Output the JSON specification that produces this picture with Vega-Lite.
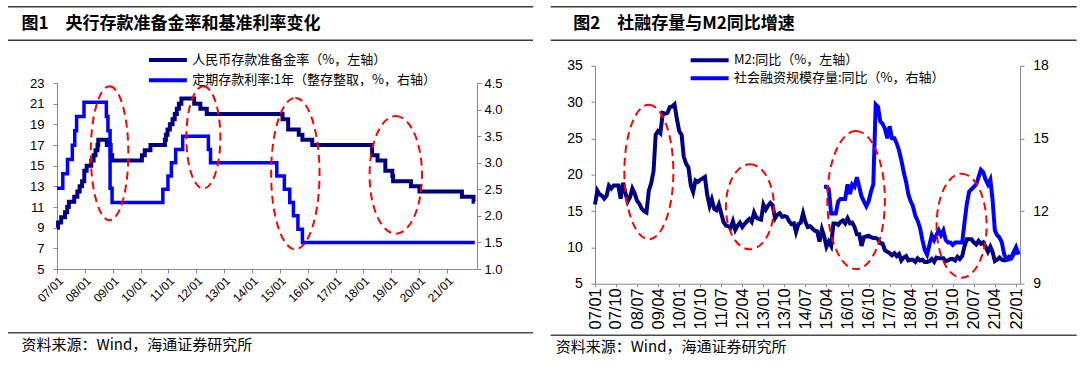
{
"$schema": "https://vega.github.io/schema/vega-lite/v6.json",
"background": "white",
"padding": {"left": 8, "top": 6, "right": 5, "bottom": 4},
"config": {
  "view": {"stroke": null},
  "font": "Liberation Sans",
  "axis": {"grid": false, "domainColor": "#888888", "tickColor": "#888888", "domainWidth": 1, "tickWidth": 1, "labelColor": "#000000", "labelFont": "Liberation Sans", "labelFontSize": 13, "tickSize": 4, "labelOverlap": false, "labelFlush": false, "title": null},
  "legend": {"title": null, "orient": "none", "labelFont": "Noto Sans CJK SC", "labelFontSize": 13, "labelColor": "#000000", "symbolType": "M-1,0L7,0", "symbolSize": 90.25, "symbolStrokeWidth": 4, "labelOffset": 31.5, "padding": 0, "labelLimit": 400}
},
"datasets": {
  "rrr": [
    {"d":"2007-01-01","v":9.0},{"d":"2007-01-15","v":9.5},{"d":"2007-02-25","v":10.0},{"d":"2007-04-16","v":10.5},{"d":"2007-05-15","v":11.0},{"d":"2007-06-05","v":11.5},{"d":"2007-08-15","v":12.0},{"d":"2007-09-25","v":12.5},{"d":"2007-10-25","v":13.0},{"d":"2007-11-26","v":13.5},{"d":"2007-12-25","v":14.5},{"d":"2008-01-25","v":15.0},{"d":"2008-03-25","v":15.5},{"d":"2008-04-25","v":16.0},{"d":"2008-05-20","v":16.5},{"d":"2008-06-15","v":17.0},{"d":"2008-06-25","v":17.5},{"d":"2008-10-15","v":17.0},{"d":"2008-12-05","v":16.0},{"d":"2008-12-25","v":15.5},{"d":"2010-01-18","v":16.0},{"d":"2010-02-25","v":16.5},{"d":"2010-05-10","v":17.0},{"d":"2010-11-16","v":17.5},{"d":"2010-11-29","v":18.0},{"d":"2010-12-20","v":18.5},{"d":"2011-01-20","v":19.0},{"d":"2011-02-24","v":19.5},{"d":"2011-03-25","v":20.0},{"d":"2011-04-21","v":20.5},{"d":"2011-05-18","v":21.0},{"d":"2011-06-20","v":21.5},{"d":"2011-12-05","v":21.0},{"d":"2012-02-24","v":20.5},{"d":"2012-05-18","v":20.0},{"d":"2015-02-05","v":19.5},{"d":"2015-04-20","v":18.5},{"d":"2015-09-06","v":18.0},{"d":"2015-10-24","v":17.5},{"d":"2016-03-01","v":17.0},{"d":"2018-04-25","v":16.0},{"d":"2018-07-05","v":15.5},{"d":"2018-10-15","v":14.5},{"d":"2019-01-15","v":14.0},{"d":"2019-01-25","v":13.5},{"d":"2019-09-16","v":13.0},{"d":"2020-01-06","v":12.5},{"d":"2021-07-15","v":12.0},{"d":"2021-12-15","v":11.5},{"d":"2021-12-31","v":11.5}
  ],
  "dep": [
    {"d":"2007-01-01","v":2.52},{"d":"2007-03-18","v":2.79},{"d":"2007-05-19","v":3.06},{"d":"2007-07-21","v":3.33},{"d":"2007-08-22","v":3.60},{"d":"2007-09-15","v":3.87},{"d":"2007-12-21","v":4.14},{"d":"2008-10-09","v":3.87},{"d":"2008-10-30","v":3.60},{"d":"2008-11-27","v":2.52},{"d":"2008-12-23","v":2.25},{"d":"2010-10-20","v":2.50},{"d":"2010-12-26","v":2.75},{"d":"2011-02-09","v":3.00},{"d":"2011-04-06","v":3.25},{"d":"2011-07-07","v":3.50},{"d":"2012-06-08","v":3.25},{"d":"2012-07-06","v":3.00},{"d":"2014-11-22","v":2.75},{"d":"2015-03-01","v":2.50},{"d":"2015-05-11","v":2.25},{"d":"2015-06-28","v":2.00},{"d":"2015-08-26","v":1.75},{"d":"2015-10-24","v":1.50},{"d":"2021-12-31","v":1.50}
  ],
  "m2": [
    {"d":"2007-01-01","v":15.9},{"d":"2007-02-01","v":17.8},{"d":"2007-03-01","v":17.3},{"d":"2007-04-01","v":17.1},{"d":"2007-05-01","v":16.7},{"d":"2007-06-01","v":17.1},{"d":"2007-07-01","v":18.5},{"d":"2007-08-01","v":18.1},{"d":"2007-09-01","v":18.5},{"d":"2007-10-01","v":18.5},{"d":"2007-11-01","v":18.5},{"d":"2007-12-01","v":16.7},
    {"d":"2008-01-01","v":18.9},{"d":"2008-02-01","v":17.5},{"d":"2008-03-01","v":16.3},{"d":"2008-04-01","v":16.9},{"d":"2008-05-01","v":18.1},{"d":"2008-06-01","v":17.4},{"d":"2008-07-01","v":16.4},{"d":"2008-08-01","v":16.0},{"d":"2008-09-01","v":15.3},{"d":"2008-10-01","v":15.0},{"d":"2008-11-01","v":14.8},{"d":"2008-12-01","v":17.8},
    {"d":"2009-01-01","v":18.8},{"d":"2009-02-01","v":20.5},{"d":"2009-03-01","v":25.5},{"d":"2009-04-01","v":26.0},{"d":"2009-05-01","v":25.7},{"d":"2009-06-01","v":28.5},{"d":"2009-07-01","v":28.4},{"d":"2009-08-01","v":28.5},{"d":"2009-09-01","v":29.3},{"d":"2009-10-01","v":29.4},{"d":"2009-11-01","v":29.7},{"d":"2009-12-01","v":27.7},
    {"d":"2010-01-01","v":26.0},{"d":"2010-02-01","v":25.5},{"d":"2010-03-01","v":22.5},{"d":"2010-04-01","v":21.5},{"d":"2010-05-01","v":21.0},{"d":"2010-06-01","v":18.5},{"d":"2010-07-01","v":17.6},{"d":"2010-08-01","v":19.2},{"d":"2010-09-01","v":19.0},{"d":"2010-10-01","v":19.3},{"d":"2010-11-01","v":19.5},{"d":"2010-12-01","v":19.7},
    {"d":"2011-01-01","v":17.2},{"d":"2011-02-01","v":15.7},{"d":"2011-03-01","v":16.6},{"d":"2011-04-01","v":15.3},{"d":"2011-05-01","v":15.1},{"d":"2011-06-01","v":15.9},{"d":"2011-07-01","v":14.7},{"d":"2011-08-01","v":13.5},{"d":"2011-09-01","v":13.0},{"d":"2011-10-01","v":12.9},{"d":"2011-11-01","v":12.7},{"d":"2011-12-01","v":13.6},
    {"d":"2012-01-01","v":12.4},{"d":"2012-02-01","v":13.0},{"d":"2012-03-01","v":13.4},{"d":"2012-04-01","v":12.8},{"d":"2012-05-01","v":13.2},{"d":"2012-06-01","v":13.6},{"d":"2012-07-01","v":13.9},{"d":"2012-08-01","v":13.5},{"d":"2012-09-01","v":14.8},{"d":"2012-10-01","v":14.1},{"d":"2012-11-01","v":13.9},{"d":"2012-12-01","v":13.8},
    {"d":"2013-01-01","v":15.9},{"d":"2013-02-01","v":15.2},{"d":"2013-03-01","v":15.7},{"d":"2013-04-01","v":16.1},{"d":"2013-05-01","v":15.8},{"d":"2013-06-01","v":14.0},{"d":"2013-07-01","v":14.5},{"d":"2013-08-01","v":14.7},{"d":"2013-09-01","v":14.2},{"d":"2013-10-01","v":14.3},{"d":"2013-11-01","v":14.2},{"d":"2013-12-01","v":13.6},
    {"d":"2014-01-01","v":13.2},{"d":"2014-02-01","v":13.3},{"d":"2014-03-01","v":12.1},{"d":"2014-04-01","v":13.2},{"d":"2014-05-01","v":13.4},{"d":"2014-06-01","v":14.7},{"d":"2014-07-01","v":13.5},{"d":"2014-08-01","v":12.8},{"d":"2014-09-01","v":12.9},{"d":"2014-10-01","v":12.6},{"d":"2014-11-01","v":12.3},{"d":"2014-12-01","v":12.2},
    {"d":"2015-01-01","v":10.8},{"d":"2015-02-01","v":12.5},{"d":"2015-03-01","v":11.6},{"d":"2015-04-01","v":10.1},{"d":"2015-05-01","v":10.8},{"d":"2015-06-01","v":10.2},{"d":"2015-07-01","v":13.3},{"d":"2015-08-01","v":13.3},{"d":"2015-09-01","v":13.1},{"d":"2015-10-01","v":13.5},{"d":"2015-11-01","v":13.7},{"d":"2015-12-01","v":13.3},
    {"d":"2016-01-01","v":14.0},{"d":"2016-02-01","v":13.3},{"d":"2016-03-01","v":13.4},{"d":"2016-04-01","v":12.8},{"d":"2016-05-01","v":11.8},{"d":"2016-06-01","v":11.8},{"d":"2016-07-01","v":10.2},{"d":"2016-08-01","v":11.4},{"d":"2016-09-01","v":11.5},{"d":"2016-10-01","v":11.6},{"d":"2016-11-01","v":11.4},{"d":"2016-12-01","v":11.3},
    {"d":"2017-01-01","v":11.3},{"d":"2017-02-01","v":11.1},{"d":"2017-03-01","v":10.6},{"d":"2017-04-01","v":10.5},{"d":"2017-05-01","v":9.6},{"d":"2017-06-01","v":9.4},{"d":"2017-07-01","v":9.2},{"d":"2017-08-01","v":8.9},{"d":"2017-09-01","v":9.2},{"d":"2017-10-01","v":8.8},{"d":"2017-11-01","v":9.1},{"d":"2017-12-01","v":8.2},
    {"d":"2018-01-01","v":8.6},{"d":"2018-02-01","v":8.8},{"d":"2018-03-01","v":8.2},{"d":"2018-04-01","v":8.3},{"d":"2018-05-01","v":8.3},{"d":"2018-06-01","v":8.0},{"d":"2018-07-01","v":8.5},{"d":"2018-08-01","v":8.2},{"d":"2018-09-01","v":8.3},{"d":"2018-10-01","v":8.0},{"d":"2018-11-01","v":8.0},{"d":"2018-12-01","v":8.1},
    {"d":"2019-01-01","v":8.4},{"d":"2019-02-01","v":8.0},{"d":"2019-03-01","v":8.6},{"d":"2019-04-01","v":8.5},{"d":"2019-05-01","v":8.5},{"d":"2019-06-01","v":8.5},{"d":"2019-07-01","v":8.1},{"d":"2019-08-01","v":8.2},{"d":"2019-09-01","v":8.4},{"d":"2019-10-01","v":8.4},{"d":"2019-11-01","v":8.2},{"d":"2019-12-01","v":8.7},
    {"d":"2020-01-01","v":8.4},{"d":"2020-02-01","v":8.8},{"d":"2020-03-01","v":10.1},{"d":"2020-04-01","v":11.1},{"d":"2020-05-01","v":11.1},{"d":"2020-06-01","v":11.1},{"d":"2020-07-01","v":10.7},{"d":"2020-08-01","v":10.4},{"d":"2020-09-01","v":10.9},{"d":"2020-10-01","v":10.5},{"d":"2020-11-01","v":10.7},{"d":"2020-12-01","v":10.1},
    {"d":"2021-01-01","v":9.4},{"d":"2021-02-01","v":10.1},{"d":"2021-03-01","v":9.4},{"d":"2021-04-01","v":8.1},{"d":"2021-05-01","v":8.3},{"d":"2021-06-01","v":8.6},{"d":"2021-07-01","v":8.3},{"d":"2021-08-01","v":8.2},{"d":"2021-09-01","v":8.3},{"d":"2021-10-01","v":8.7},{"d":"2021-11-01","v":8.5},{"d":"2021-12-01","v":9.0},
    {"d":"2022-01-01","v":9.8},{"d":"2022-02-01","v":9.2}
  ],
  "tsf": [
    {"d":"2015-03-01","v":13.0},{"d":"2015-04-01","v":13.0},{"d":"2015-05-01","v":12.9},{"d":"2015-06-01","v":11.9},{"d":"2015-07-01","v":11.9},{"d":"2015-08-01","v":11.9},{"d":"2015-09-01","v":12.4},{"d":"2015-10-01","v":12.5},{"d":"2015-11-01","v":12.5},{"d":"2015-12-01","v":12.5},
    {"d":"2016-01-01","v":13.1},{"d":"2016-02-01","v":12.7},{"d":"2016-03-01","v":13.1},{"d":"2016-04-01","v":13.0},{"d":"2016-05-01","v":13.4},{"d":"2016-06-01","v":13.0},{"d":"2016-07-01","v":12.6},{"d":"2016-08-01","v":12.4},{"d":"2016-09-01","v":12.2},{"d":"2016-10-01","v":12.4},{"d":"2016-11-01","v":12.8},{"d":"2016-12-01","v":13.1},
    {"d":"2017-01-01","v":16.4},{"d":"2017-02-01","v":16.3},{"d":"2017-03-01","v":15.7},{"d":"2017-04-01","v":15.6},{"d":"2017-05-01","v":15.4},{"d":"2017-06-01","v":15.0},{"d":"2017-07-01","v":15.5},{"d":"2017-08-01","v":15.0},{"d":"2017-09-01","v":15.0},{"d":"2017-10-01","v":14.8},{"d":"2017-11-01","v":14.5},{"d":"2017-12-01","v":14.1},
    {"d":"2018-01-01","v":13.6},{"d":"2018-02-01","v":13.2},{"d":"2018-03-01","v":12.7},{"d":"2018-04-01","v":12.4},{"d":"2018-05-01","v":12.2},{"d":"2018-06-01","v":11.8},{"d":"2018-07-01","v":11.6},{"d":"2018-08-01","v":11.3},{"d":"2018-09-01","v":10.8},{"d":"2018-10-01","v":10.4},{"d":"2018-11-01","v":10.2},{"d":"2018-12-01","v":10.6},
    {"d":"2019-01-01","v":11.0},{"d":"2019-02-01","v":10.8},{"d":"2019-03-01","v":11.0},{"d":"2019-04-01","v":11.2},{"d":"2019-05-01","v":11.0},{"d":"2019-06-01","v":11.2},{"d":"2019-07-01","v":10.8},{"d":"2019-08-01","v":10.7},{"d":"2019-09-01","v":10.7},{"d":"2019-10-01","v":10.6},{"d":"2019-11-01","v":10.7},{"d":"2019-12-01","v":10.7},
    {"d":"2020-01-01","v":10.7},{"d":"2020-02-01","v":10.7},{"d":"2020-03-01","v":11.5},{"d":"2020-04-01","v":12.3},{"d":"2020-05-01","v":12.8},{"d":"2020-06-01","v":12.9},{"d":"2020-07-01","v":13.0},{"d":"2020-08-01","v":13.1},{"d":"2020-09-01","v":13.4},{"d":"2020-10-01","v":13.7},{"d":"2020-11-01","v":13.6},{"d":"2020-12-01","v":13.3},
    {"d":"2021-01-01","v":13.1},{"d":"2021-02-01","v":13.3},{"d":"2021-03-01","v":12.5},{"d":"2021-04-01","v":11.2},{"d":"2021-05-01","v":11.0},{"d":"2021-06-01","v":10.9},{"d":"2021-07-01","v":10.7},{"d":"2021-08-01","v":10.2},{"d":"2021-09-01","v":10.0},{"d":"2021-10-01","v":10.0},{"d":"2021-11-01","v":10.1},{"d":"2021-12-01","v":10.3},
    {"d":"2022-01-01","v":10.5},{"d":"2022-02-01","v":10.2}
  ]
},
"resolve": {"scale": {"color": "independent"}},
"spacing": 16,
"hconcat": [
 {
  "vconcat": [
   {
    "width": 476, "height": 35,
    "data": {"values": [{"t": "图1　央行存款准备金率和基准利率变化"}]},
    "encoding": {"x": {"datum": -0.10294, "type": "quantitative", "scale": {"domain": [0, 1], "nice": false, "zero": false}, "axis": null}},
    "layer": [
     {"mark": {"type": "rect", "color": "#3c3c3c"}, "encoding": {"x2": {"datum": 1}, "y": {"datum": 1, "type": "quantitative", "scale": {"domain": [0, 1], "nice": false}, "axis": null}, "y2": {"datum": 0.957}}},
     {"mark": {"type": "rect", "color": "#3c3c3c"}, "encoding": {"x2": {"datum": 1}, "y": {"datum": 0.043, "type": "quantitative", "axis": null}, "y2": {"datum": 0}}},
     {"mark": {"type": "text", "align": "left", "baseline": "middle", "dx": 13.5, "font": "Noto Sans CJK SC", "fontSize": 17, "fontWeight": "bold", "color": "#000000"},
      "encoding": {"text": {"field": "t"}, "y": {"datum": 0.5, "type": "quantitative", "axis": null}}}
    ]
   },
   {
    "width": 420, "height": 186,
    "resolve": {"scale": {"y": "independent"}},
    "encoding": {
     "x": {"field": "d", "type": "temporal", "title": null,
           "scale": {"type": "utc", "domain": [{"year": 2007, "month": 1, "date": 1, "utc": true}, {"year": 2022, "month": 1, "date": 29, "utc": true}]},
           "axis": {"values": [{"year":2007,"month":1,"date":1,"utc":true},{"year":2008,"month":1,"date":1,"utc":true},{"year":2009,"month":1,"date":1,"utc":true},{"year":2010,"month":1,"date":1,"utc":true},{"year":2011,"month":1,"date":1,"utc":true},{"year":2012,"month":1,"date":1,"utc":true},{"year":2013,"month":1,"date":1,"utc":true},{"year":2014,"month":1,"date":1,"utc":true},{"year":2015,"month":1,"date":1,"utc":true},{"year":2016,"month":1,"date":1,"utc":true},{"year":2017,"month":1,"date":1,"utc":true},{"year":2018,"month":1,"date":1,"utc":true},{"year":2019,"month":1,"date":1,"utc":true},{"year":2020,"month":1,"date":1,"utc":true},{"year":2021,"month":1,"date":1,"utc":true}],
                    "format": "%y/%m", "labelAngle": -45, "labelFontSize": 12, "labelPadding": 2, "minExtent": 51, "labelOverlap": false, "labelSeparation": 0}}
    },
    "layer": [
     {"data": {"name": "rrr"}, "mark": {"type": "line", "interpolate": "step-after", "strokeWidth": 4},
      "encoding": {
       "y": {"field": "v", "type": "quantitative", "title": null, "scale": {"domain": [5, 23], "nice": false, "zero": false},
             "axis": {"values": [5, 7, 9, 11, 13, 15, 17, 19, 21, 23], "labelPadding": 9, "minExtent": 49, "labelOverlap": false}},
       "color": {"datum": "人民币存款准备金率（%，左轴）", "type": "nominal",
                 "scale": {"domain": ["人民币存款准备金率（%，左轴）", "定期存款利率:1年（整存整取，%，右轴）"], "range": ["#000080", "#0000FF"]},
                 "legend": {"legendX": 89.7, "legendY": -30, "rowPadding": 4.3}}
      }},
     {"data": {"name": "dep"}, "mark": {"type": "line", "interpolate": "step-after", "strokeWidth": 3.5},
      "encoding": {
       "y": {"field": "v", "type": "quantitative", "title": null, "scale": {"domain": [1, 4.5], "nice": false, "zero": false},
             "axis": {"orient": "right", "values": [1, 1.5, 2, 2.5, 3, 3.5, 4, 4.5], "format": ".1f", "labelPadding": 3, "labelOverlap": false}},
       "color": {"datum": "定期存款利率:1年（整存整取，%，右轴）", "type": "nominal"}
      }},
     {"layer": [
      {"data": {"values": [{"d": "2008-11-20", "v": 16.2}]}, "mark": {"type": "point", "shape": "M0,-67C10.4,-67 18.8,-37 18.8,0C18.8,37 10.4,67 0,67C-10.4,67 -18.8,37 -18.8,0C-18.8,-37 -10.4,-67 0,-67Z", "size": 4, "filled": false, "color": "#FF0000", "stroke": "#FF0000", "strokeWidth": 2, "strokeDash": [8, 5], "opacity": 1},
       "encoding": {"y": {"field": "v", "type": "quantitative", "scale": {"domain": [5, 23]}, "axis": null}}},
      {"data": {"values": [{"d": "2012-04-03", "v": 17.73}]}, "mark": {"type": "point", "shape": "M0,-51.2C9.4,-51.2 17,-28.3 17,0C17,28.3 9.4,51.2 0,51.2C-9.4,51.2 -17,28.3 -17,0C-17,-28.3 -9.4,-51.2 0,-51.2Z", "size": 4, "filled": false, "color": "#FF0000", "stroke": "#FF0000", "strokeWidth": 2, "strokeDash": [8, 5], "opacity": 1},
       "encoding": {"y": {"field": "v", "type": "quantitative", "scale": {"domain": [5, 23]}, "axis": null}}},
      {"data": {"values": [{"d": "2015-07-23", "v": 14.23}]}, "mark": {"type": "point", "shape": "M0,-75.7C13.4,-75.7 24.2,-41.8 24.2,0C24.2,41.8 13.4,75.7 0,75.7C-13.4,75.7 -24.2,41.8 -24.2,0C-24.2,-41.8 -13.4,-75.7 0,-75.7Z", "size": 4, "filled": false, "color": "#FF0000", "stroke": "#FF0000", "strokeWidth": 2, "strokeDash": [8, 5], "opacity": 1},
       "encoding": {"y": {"field": "v", "type": "quantitative", "scale": {"domain": [5, 23]}, "axis": null}}},
      {"data": {"values": [{"d": "2019-03-01", "v": 14.11}]}, "mark": {"type": "point", "shape": "M0,-58.8C14.5,-58.8 26.2,-32.5 26.2,0C26.2,32.5 14.5,58.8 0,58.8C-14.5,58.8 -26.2,32.5 -26.2,0C-26.2,-32.5 -14.5,-58.8 0,-58.8Z", "size": 4, "filled": false, "color": "#FF0000", "stroke": "#FF0000", "strokeWidth": 2, "strokeDash": [8, 5], "opacity": 1},
       "encoding": {"y": {"field": "v", "type": "quantitative", "scale": {"domain": [5, 23]}, "axis": null}}}
     ]}
    ]
   },
   {
    "width": 476, "height": 26,
    "data": {"values": [{"t": "资料来源：Wind，海通证券研究所"}]},
    "encoding": {"x": {"datum": -0.10294, "type": "quantitative", "scale": {"domain": [0, 1], "nice": false, "zero": false}, "axis": null}},
    "layer": [
     {"mark": {"type": "rect", "color": "#4a4a4a"}, "encoding": {"x2": {"datum": 1}, "y": {"datum": 1, "type": "quantitative", "scale": {"domain": [0, 1], "nice": false}, "axis": null}, "y2": {"datum": 0.942}}},
     {"mark": {"type": "text", "align": "left", "baseline": "middle", "dx": 13.5, "font": "Noto Sans CJK SC", "fontSize": 15, "color": "#000000"},
      "encoding": {"text": {"field": "t"}, "y": {"datum": 0.5, "type": "quantitative", "axis": null}}}
    ]
   }
  ],
  "spacing": 12,
  "resolve": {"scale": {"color": "independent"}}
 },
 {
  "vconcat": [
   {
    "width": 481.7, "height": 35,
    "data": {"values": [{"t": "图2　社融存量与M2同比增速"}]},
    "encoding": {"x": {"datum": -0.09197, "type": "quantitative", "scale": {"domain": [0, 1], "nice": false, "zero": false}, "axis": null}},
    "layer": [
     {"mark": {"type": "rect", "color": "#3c3c3c"}, "encoding": {"x2": {"datum": 1}, "y": {"datum": 1, "type": "quantitative", "scale": {"domain": [0, 1], "nice": false}, "axis": null}, "y2": {"datum": 0.957}}},
     {"mark": {"type": "rect", "color": "#3c3c3c"}, "encoding": {"x2": {"datum": 1}, "y": {"datum": 0.043, "type": "quantitative", "axis": null}, "y2": {"datum": 0}}},
     {"mark": {"type": "text", "align": "left", "baseline": "middle", "dx": 22.5, "font": "Noto Sans CJK SC", "fontSize": 17, "fontWeight": "bold", "color": "#000000"},
      "encoding": {"text": {"field": "t"}, "y": {"datum": 0.5, "type": "quantitative", "axis": null}}}
    ]
   },
   {
    "width": 425, "height": 218,
    "resolve": {"scale": {"y": "independent"}},
    "encoding": {
     "x": {"field": "d", "type": "temporal", "title": null,
           "scale": {"type": "utc", "domain": [{"year": 2007, "month": 1, "date": 1, "utc": true}, {"year": 2022, "month": 2, "date": 22, "utc": true}]},
           "axis": {"values": [{"year":2007,"month":1,"date":1,"utc":true},{"year":2007,"month":10,"date":1,"utc":true},{"year":2008,"month":7,"date":1,"utc":true},{"year":2009,"month":4,"date":1,"utc":true},{"year":2010,"month":1,"date":1,"utc":true},{"year":2010,"month":10,"date":1,"utc":true},{"year":2011,"month":7,"date":1,"utc":true},{"year":2012,"month":4,"date":1,"utc":true},{"year":2013,"month":1,"date":1,"utc":true},{"year":2013,"month":10,"date":1,"utc":true},{"year":2014,"month":7,"date":1,"utc":true},{"year":2015,"month":4,"date":1,"utc":true},{"year":2016,"month":1,"date":1,"utc":true},{"year":2016,"month":10,"date":1,"utc":true},{"year":2017,"month":7,"date":1,"utc":true},{"year":2018,"month":4,"date":1,"utc":true},{"year":2019,"month":1,"date":1,"utc":true},{"year":2019,"month":10,"date":1,"utc":true},{"year":2020,"month":7,"date":1,"utc":true},{"year":2021,"month":4,"date":1,"utc":true},{"year":2022,"month":1,"date":1,"utc":true}],
                    "format": "%y/%m", "labelAngle": -90, "labelFontSize": 16.5, "labelPadding": 1, "tickSize": 3, "labelOverlap": false, "labelSeparation": 0}}
    },
    "layer": [
     {"data": {"name": "m2"}, "mark": {"type": "line", "strokeWidth": 4},
      "encoding": {
       "y": {"field": "v", "type": "quantitative", "title": null, "scale": {"domain": [5, 35], "nice": false, "zero": false},
             "axis": {"values": [5, 10, 15, 20, 25, 30, 35], "labelPadding": 8.6, "labelFontSize": 14, "minExtent": 44.3, "labelOverlap": false}},
       "color": {"datum": "M2:同比（%，左轴）", "type": "nominal",
                 "scale": {"domain": ["M2:同比（%，左轴）", "社会融资规模存量:同比（%，右轴）"], "range": ["#000080", "#0000FF"]},
                 "legend": {"legendX": 86.1, "legendY": -19.8, "rowPadding": 2, "padding": 7.3}}
      }},
     {"data": {"name": "tsf"}, "mark": {"type": "line", "strokeWidth": 4},
      "encoding": {
       "y": {"field": "v", "type": "quantitative", "title": null, "scale": {"domain": [9, 18], "nice": false, "zero": false},
             "axis": {"orient": "right", "values": [9, 12, 15, 18], "format": "d", "labelPadding": 8.7, "labelFontSize": 14, "labelOverlap": false}},
       "color": {"datum": "社会融资规模存量:同比（%，右轴）", "type": "nominal"}
      }},
     {"layer": [
      {"data": {"values": [{"d": "2008-12-02", "v": 20.37}]}, "mark": {"type": "point", "shape": "M0,-67.3C13.5,-67.3 24.5,-37.2 24.5,0C24.5,37.2 13.5,67.3 0,67.3C-13.5,67.3 -24.5,37.2 -24.5,0C-24.5,-37.2 -13.5,-67.3 0,-67.3Z", "size": 4, "filled": false, "color": "#FF0000", "stroke": "#FF0000", "strokeWidth": 2, "strokeDash": [8, 5], "opacity": 1},
       "encoding": {"y": {"field": "v", "type": "quantitative", "scale": {"domain": [5, 35]}, "axis": null}}},
      {"data": {"values": [{"d": "2012-07-09", "v": 15.58}]}, "mark": {"type": "point", "shape": "M0,-42.5C13.3,-42.5 24,-23.5 24,0C24,23.5 13.3,42.5 0,42.5C-13.3,42.5 -24,23.5 -24,0C-24,-23.5 -13.3,-42.5 0,-42.5Z", "size": 4, "filled": false, "color": "#FF0000", "stroke": "#FF0000", "strokeWidth": 2, "strokeDash": [8, 5], "opacity": 1},
       "encoding": {"y": {"field": "v", "type": "quantitative", "scale": {"domain": [5, 35]}, "axis": null}}},
      {"data": {"values": [{"d": "2016-04-21", "v": 16.51}]}, "mark": {"type": "point", "shape": "M0,-69C15.9,-69 28.8,-38.1 28.8,0C28.8,38.1 15.9,69 0,69C-15.9,69 -28.8,38.1 -28.8,0C-28.8,-38.1 -15.9,-69 0,-69Z", "size": 4, "filled": false, "color": "#FF0000", "stroke": "#FF0000", "strokeWidth": 2, "strokeDash": [8, 5], "opacity": 1},
       "encoding": {"y": {"field": "v", "type": "quantitative", "scale": {"domain": [5, 35]}, "axis": null}}},
      {"data": {"values": [{"d": "2020-01-24", "v": 12.99}]}, "mark": {"type": "point", "shape": "M0,-52C13.8,-52 25,-28.7 25,0C25,28.7 13.8,52 0,52C-13.8,52 -25,28.7 -25,0C-25,-28.7 -13.8,-52 0,-52Z", "size": 4, "filled": false, "color": "#FF0000", "stroke": "#FF0000", "strokeWidth": 2, "strokeDash": [8, 5], "opacity": 1},
       "encoding": {"y": {"field": "v", "type": "quantitative", "scale": {"domain": [5, 35]}, "axis": null}}}
     ]}
    ]
   },
   {
    "width": 481.7, "height": 26,
    "data": {"values": [{"t": "资料来源：Wind，海通证券研究所"}]},
    "encoding": {"x": {"datum": -0.09197, "type": "quantitative", "scale": {"domain": [0, 1], "nice": false, "zero": false}, "axis": null}},
    "layer": [
     {"mark": {"type": "rect", "color": "#4a4a4a"}, "encoding": {"x2": {"datum": 1}, "y": {"datum": 1, "type": "quantitative", "scale": {"domain": [0, 1], "nice": false}, "axis": null}, "y2": {"datum": 0.942}}},
     {"mark": {"type": "text", "align": "left", "baseline": "middle", "dx": 5, "font": "Noto Sans CJK SC", "fontSize": 15, "color": "#000000"},
      "encoding": {"text": {"field": "t"}, "y": {"datum": 0.5, "type": "quantitative", "axis": null}}}
    ]
   }
  ],
  "spacing": 4.7,
  "resolve": {"scale": {"color": "independent"}}
 }
]
}
